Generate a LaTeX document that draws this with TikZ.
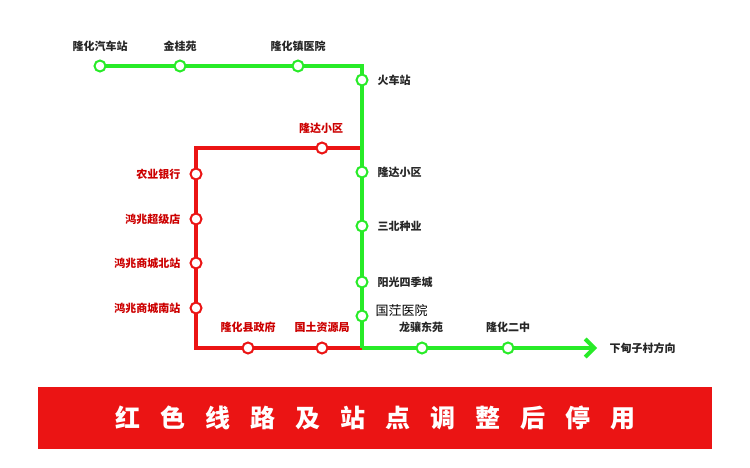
\documentclass[tikz,border=0pt]{standalone}
\usepackage{fontspec}
\usetikzlibrary{arrows.meta}
\newfontfamily\cjk{Noto Sans CJK SC}
\definecolor{lgreen}{RGB}{40,235,40}
\definecolor{lred}{RGB}{235,20,20}
\begin{document}
\begin{tikzpicture}[x=1pt,y=-1pt,
  gst/.style={circle,draw=lgreen,fill=white,line width=2pt,minimum size=11pt,inner sep=0pt},
  rst/.style={circle,draw=lred,fill=white,line width=2pt,minimum size=11pt,inner sep=0pt},
  gl/.style={line width=4pt,draw=lgreen},
  rl/.style={line width=4pt,draw=lred},
  bl/.style={font=\cjk\bfseries\fontsize{11}{13}\selectfont,text=black!85},
  rlab/.style={font=\cjk\bfseries\fontsize{11}{13}\selectfont,text=red!80!black}]
\useasboundingbox (0,0) rectangle (750,468);
\fill[white] (0,0) rectangle (750,468);
\coordinate (gc) at (362,66);
\coordinate (j) at (362,348);
\coordinate (rtr) at (362,148);
\coordinate (rtl) at (196,148);
\coordinate (rbl) at (196,348);
\coordinate (end) at (597,348);
\coordinate (gs) at (100,66);
\draw[rl,line join=miter] (rtr) -- (rtl) -- (rbl) -- (j);
\draw[gl] (gs) -- (gc) -- (j);
\draw[gl,-{Straight Barb[length=9pt,width=18pt]}] (j) -- (end);
\node[gst] (s1) at (100,66) {};
\node[gst] (s2) at (180,66) {};
\node[gst] (s3) at (298,66) {};
\node[gst] (s4) at (362,80) {};
\node[gst] (s5) at (362,172) {};
\node[gst] (s6) at (362,226) {};
\node[gst] (s7) at (362,282) {};
\node[gst] (s8) at (362,316) {};
\node[gst] (s9) at (422,348) {};
\node[gst] (s10) at (508,348) {};
\node[rst] (r1) at (322,148) {};
\node[rst] (r2) at (196,174) {};
\node[rst] (r3) at (196,219) {};
\node[rst] (r4) at (196,263) {};
\node[rst] (r5) at (196,308) {};
\node[rst] (r6) at (248,348) {};
\node[rst] (r7) at (322,348) {};
\node[bl] (l1) at (100,46) {隆化汽车站};
\node[bl] (l2) at (180,46) {金桂苑};
\node[bl] (l3) at (298,46) {隆化镇医院};
\node[bl,anchor=west] (l4) at (374,80) {火车站};
\node[bl,anchor=west] (l5) at (374,172) {隆达小区};
\node[bl,anchor=west] (l6) at (374,226) {三北种业};
\node[bl,anchor=west] (l7) at (374,282) {阳光四季城};
\node[font=\cjk\fontsize{13}{15}\selectfont,anchor=west] (l8) at (372,311) {国茳医院};
\node[bl] (l9) at (421,327) {龙骧东苑};
\node[bl] (l10) at (508,327) {隆化二中};
\node[bl,anchor=west] (l11) at (606,348) {下甸子村方向};
\node[rlab] (m1) at (321,128) {隆达小区};
\node[rlab,anchor=east] (m2) at (184,174) {农业银行};
\node[rlab,anchor=east] (m3) at (184,219) {鸿兆超级店};
\node[rlab,anchor=east] (m4) at (184,263) {鸿兆商城北站};
\node[rlab,anchor=east] (m5) at (184,308) {鸿兆商城南站};
\node[rlab] (m6) at (248,327) {隆化县政府};
\node[rlab] (m7) at (322,327) {国土资源局};
\node[fill=lred,minimum width=674pt,minimum height=62pt,inner sep=0pt,
  font=\cjk\bfseries\fontsize{25}{28}\selectfont,text=white] (ban) at (375,418)
  {红\hspace{20pt}色\hspace{20pt}线\hspace{20pt}路\hspace{20pt}及\hspace{20pt}站\hspace{20pt}点\hspace{20pt}调\hspace{20pt}整\hspace{20pt}后\hspace{20pt}停\hspace{20pt}用};
\end{tikzpicture}
\end{document}
